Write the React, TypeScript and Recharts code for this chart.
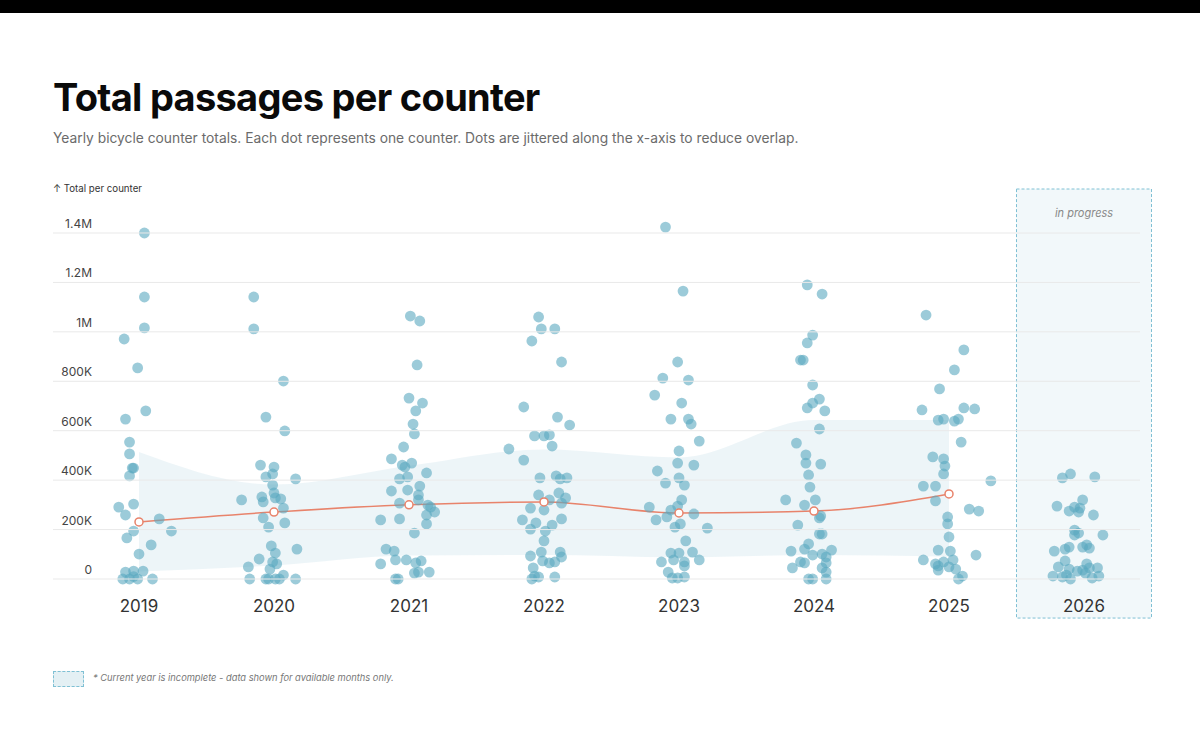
import React from 'react';
import {
  ComposedChart, XAxis, YAxis, Scatter, Line, Area, ReferenceArea,
} from 'recharts';

const years = ['2019', '2020', '2021', '2022', '2023', '2024', '2025', '2026'];
const yTicks = [0, 200000, 400000, 600000, 800000, 1000000, 1200000, 1400000];

// Mean per year (K) for completed years
const meanK = [231, 271, 300, 312, 267, 275, 344];
// Band low / high (K)
const bandLowK = [30, 55, 95, 97, 88, 97, 90];
const bandHighK = [514, 382, 458, 524, 492, 643, 643];

// dots: [jitter (category units), value (K)]
const dots2019 = [[.04,1400],[.04,1141],[.04,1016],[-.11,971],[-.01,854],[.05,680],[-.10,647],[-.07,554],[-.07,506],[-.04,449],[-.05,449],[-.07,417],[-.15,291],[-.04,303],[-.10,259],[.15,243],[-.04,194],[-.09,166],[.24,194],[.09,138],[0,101],[-.10,28],[-.04,32],[.03,32],[-.12,0],[-.07,0],[-.01,0],[.10,0],[-.04,10]];
const dots2020 = [[-.15,1141],[-.15,1012],[.07,801],[-.06,655],[.08,599],[-.10,461],[0,453],[-.06,413],[-.01,425],[.16,405],[-.01,380],[0,348],[-.09,332],[-.08,312],[.01,328],[.05,324],[-.24,320],[.07,287],[-.08,247],[.08,227],[-.04,210],[-.02,134],[.17,121],[.01,105],[-.11,81],[-.01,69],[.02,61],[-.03,40],[-.19,49],[.07,16],[-.18,0],[-.06,0],[-.04,0],[.01,0],[.04,0],[.16,0]];
const dots2021 = [[.01,1064],[.08,1044],[.06,866],[0,732],[.10,712],[.05,680],[.03,627],[.04,587],[-.04,534],[-.13,486],[-.05,461],[.02,469],[-.03,453],[.13,429],[-.07,405],[-.01,413],[.08,376],[-.01,360],[-.13,356],[.07,340],[-.07,307],[.07,320],[.14,299],[.19,271],[.16,291],[.13,259],[-.21,239],[-.07,243],[.13,223],[.04,186],[-.17,121],[-.11,113],[-.10,77],[-.02,77],[-.21,61],[.05,65],[.09,73],[.04,24],[.07,28],[.15,28],[-.10,0],[-.08,0]];
const dots2022 = [[-.04,1060],[-.02,1012],[.08,1012],[-.09,963],[.13,878],[-.15,696],[.10,655],[.19,623],[-.07,579],[0,579],[.04,583],[.06,538],[-.26,526],[-.15,481],[-.03,409],[.09,417],[.12,405],[.17,409],[-.04,340],[.11,348],[.16,328],[.04,320],[.13,307],[-.10,287],[0,279],[-.16,239],[-.06,227],[-.10,202],[.01,194],[.06,218],[.13,243],[0,154],[-.10,93],[-.02,109],[.12,109],[-.01,73],[.04,65],[.08,69],[.13,89],[-.08,45],[-.07,12],[-.09,0],[-.04,8],[.08,8]];
const dots2023 = [[-.10,1424],[.03,1165],[-.01,878],[-.12,813],[.07,805],[-.18,744],[.02,712],[-.06,647],[.07,647],[.09,627],[.15,558],[0,518],[-.16,437],[-.01,469],[.11,461],[0,409],[-.10,388],[.04,380],[.02,320],[-.01,295],[-.22,291],[-.06,279],[.11,263],[-.17,239],[-.09,251],[-.03,210],[.01,223],[.21,206],[.05,154],[-.06,105],[0,105],[.10,109],[-.13,69],[-.04,77],[.04,69],[.15,77],[-.08,28],[.04,53],[-.05,4],[-.01,4],[.04,8]];
const dots2024 = [[-.05,1190],[.06,1153],[-.01,987],[-.05,955],[-.10,886],[-.08,886],[-.01,785],[.04,728],[-.01,712],[-.05,692],[.08,680],[.04,607],[-.13,550],[-.06,502],[-.06,469],[.05,465],[-.04,421],[-.03,372],[-.21,320],[-.07,299],[.01,320],[.05,255],[.04,247],[-.12,218],[.04,182],[.06,182],[-.04,142],[-.07,121],[-.17,113],[-.01,97],[.06,101],[.13,117],[.09,89],[-.10,69],[-.07,65],[.09,65],[-.16,45],[.06,45],[.09,28],[-.04,0],[-.01,0],[.09,0]];
const dots2025 = [[-.17,1068],[.11,927],[.04,846],[-.07,769],[-.20,684],[.11,692],[.19,688],[-.08,643],[-.04,647],[.04,639],[.07,647],[.09,554],[-.12,494],[-.04,486],[-.03,457],[-.04,425],[-.19,376],[-.10,376],[.31,397],[-.10,316],[.15,283],[.22,275],[-.01,251],[-.01,223],[0,170],[-.08,117],[.01,113],[.20,97],[-.19,77],[-.10,61],[-.04,69],[.03,77],[-.08,53],[-.08,36],[0,49],[.05,40],[.10,12],[.07,0]];
const dots2026 = [[-.16,409],[-.10,425],[.08,413],[-.20,295],[-.01,320],[-.11,275],[-.07,291],[-.04,271],[-.03,287],[.07,259],[-.07,198],[-.04,186],[-.07,178],[.14,178],[-.22,113],[-.14,121],[-.11,129],[-.01,129],[.02,138],[.04,125],[-.19,49],[-.14,73],[-.11,40],[-.05,32],[-.01,36],[.02,61],[.04,45],[.10,45],[-.23,12],[-.16,8],[-.10,0],[.06,4],[.11,12],[-.13,16],[.01,24]];

const dotsByYear = [dots2019, dots2020, dots2021, dots2022, dots2023, dots2024, dots2025, dots2026];

const scatterData = dotsByYear.flatMap((arr, i) =>
  arr.map(([j, v]) => ({ x: i + j, y: v * 1000 }))
);

const lineData = meanK.map((m, i) => ({
  x: i,
  mean: m * 1000,
  band: [bandLowK[i] * 1000, bandHighK[i] * 1000],
}));

const DOT = '#5aa8c0';
const LINE = '#e8836b';

const fmtY = (v: number) => {
  if (v === 0) return '0';
  if (v >= 1000000) return `${+(v / 1000000).toFixed(1)}M`;
  return `${Math.round(v / 1000)}K`;
};

const YTick = (props: any) => {
  const { y, payload } = props;
  return (
    <g>
      <line x1={53} x2={1140} y1={y} y2={y} stroke="#e9e9e9" strokeWidth={1} />
      <text x={92} y={y - 5} textAnchor="end" fontSize={12} fill="#444" fontFamily="Inter, sans-serif">
        {fmtY(payload.value)}
      </text>
    </g>
  );
};

const XTick = (props: any) => {
  const { x, y, payload } = props;
  return (
    <text x={x} y={y + 33} textAnchor="middle" fontSize={17} fill="#333" fontFamily="Inter, sans-serif">
      {years[payload.value]}
    </text>
  );
};

const DotShape = (props: any) => (
  <circle cx={props.cx} cy={props.cy} r={5.4} fill={DOT} fillOpacity={0.6} />
);

export default function App() {
  return (
    <div style={{ position: 'absolute', left: 0, top: 0, width: 1200, height: 750, background: '#fff', fontFamily: 'Inter, sans-serif', overflow: 'hidden' }}>
      <div style={{ position: 'absolute', left: 0, top: 0, width: 1200, height: 13, background: '#000' }} />
      <div style={{ position: 'absolute', left: 53, top: 73, fontSize: 38, fontWeight: 700, color: '#0a0a0a', letterSpacing: -0.7, whiteSpace: 'nowrap', lineHeight: '48px' }}>
        Total passages per counter
      </div>
      <div style={{ position: 'absolute', left: 53, top: 128, fontSize: 13.8, color: '#6b6b6b', whiteSpace: 'nowrap', lineHeight: '20px' }}>
        Yearly bicycle counter totals. Each dot represents one counter. Dots are jittered along the x-axis to reduce overlap.
      </div>
      <div style={{ position: 'absolute', left: 53, top: 182, fontSize: 9.7, color: '#333', whiteSpace: 'nowrap', lineHeight: '14px' }}>
        ↑ Total per counter
      </div>
      <div style={{ position: 'absolute', left: 0, top: 0 }}>
        <ComposedChart width={1200} height={750} data={lineData} margin={{ top: 189, right: 48.5, bottom: 131, left: 31.5 }}>
          <XAxis
            dataKey="x"
            type="number"
            domain={[-0.5, 7.5]}
            ticks={[0, 1, 2, 3, 4, 5, 6, 7]}
            interval={0}
            axisLine={false}
            tickLine={false}
            tickSize={0}
            tickMargin={0}
            height={40}
            tick={<XTick />}
          />
          <YAxis
            type="number"
            domain={[0, 1578000]}
            ticks={yTicks}
            interval={0}
            axisLine={false}
            tickLine={false}
            tickSize={0}
            tickMargin={0}
            width={40}
            tick={<YTick />}
          />
          <ReferenceArea
            x1={6.5}
            x2={7.5}
            y1={-158000}
            y2={1578000}
            ifOverflow="visible"
            fill={DOT}
            fillOpacity={0.08}
            stroke="#7fc0d4"
            strokeDasharray="3 2"
            strokeWidth={1}
          />
          <Area
            dataKey="band"
            type="monotone"
            stroke="none"
            fill={DOT}
            fillOpacity={0.11}
            isAnimationActive={false}
            dot={false}
            activeDot={false}
          />
          <Scatter data={scatterData} dataKey="y" shape={<DotShape />} isAnimationActive={false} />
          <Line
            dataKey="mean"
            type="monotone"
            stroke={LINE}
            strokeWidth={1.5}
            dot={{ r: 4, fill: '#fff', stroke: LINE, strokeWidth: 1.5 }}
            activeDot={false}
            isAnimationActive={false}
          />
        </ComposedChart>
      </div>
      <div style={{ position: 'absolute', left: 1017, top: 206, width: 134, textAlign: 'center', fontSize: 11, fontStyle: 'italic', color: '#888', lineHeight: '14px' }}>
        in progress
      </div>
      <div style={{ position: 'absolute', left: 53, top: 671, width: 29, height: 14, background: '#e4f0f4', border: '1px dashed #7fc0d4' }} />
      <div style={{ position: 'absolute', left: 93, top: 671, fontSize: 9.3, fontStyle: 'italic', color: '#777', whiteSpace: 'nowrap', lineHeight: '14px' }}>
        * Current year is incomplete - data shown for available months only.
      </div>
    </div>
  );
}
